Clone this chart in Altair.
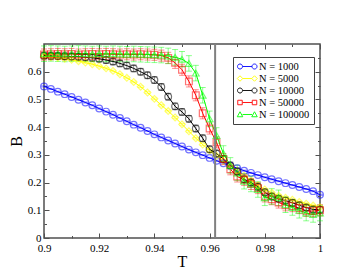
import altair as alt
import pandas as pd

T = [0.9, 0.9025, 0.905, 0.9075, 0.91, 0.9125, 0.915, 0.9175, 0.92, 0.9225,
     0.925, 0.9275, 0.93, 0.9325, 0.935, 0.9375, 0.94, 0.9425, 0.945, 0.9475,
     0.95, 0.9525, 0.955, 0.9575, 0.96, 0.9625, 0.965, 0.9675, 0.97, 0.9725,
     0.975, 0.9775, 0.98, 0.9825, 0.985, 0.9875, 0.99, 0.9925, 0.995, 0.9975, 1.0]

B_1000 = [0.547, 0.538, 0.528, 0.519, 0.509, 0.499, 0.489, 0.479, 0.467, 0.456,
          0.445, 0.433, 0.421, 0.409, 0.398, 0.386, 0.374, 0.363, 0.352, 0.341,
          0.330, 0.319, 0.309, 0.299, 0.289, 0.279, 0.270, 0.261, 0.252, 0.243,
          0.235, 0.227, 0.219, 0.212, 0.205, 0.198, 0.191, 0.184, 0.177, 0.169, 0.156]
B_5000 = [0.655, 0.653, 0.650, 0.647, 0.643, 0.638, 0.633, 0.627, 0.620, 0.612,
          0.603, 0.591, 0.578, 0.563, 0.546, 0.525, 0.502, 0.479, 0.458, 0.435,
          0.410, 0.385, 0.360, 0.337, 0.316, 0.297, 0.279, 0.260, 0.243, 0.225,
          0.208, 0.190, 0.175, 0.163, 0.153, 0.145, 0.138, 0.130, 0.124, 0.117, 0.111]
B_10000 = [0.658, 0.657, 0.657, 0.656, 0.655, 0.654, 0.652, 0.650, 0.647, 0.642,
           0.637, 0.630, 0.622, 0.612, 0.600, 0.587, 0.570, 0.545, 0.510, 0.475,
           0.455, 0.430, 0.395, 0.360, 0.320, 0.305, 0.285, 0.262, 0.240, 0.212,
           0.200, 0.185, 0.165, 0.150, 0.142, 0.135, 0.127, 0.118, 0.110, 0.103, 0.102]
B_50000 = [0.662, 0.663, 0.664, 0.663, 0.664, 0.662, 0.663, 0.664, 0.663, 0.664,
           0.663, 0.662, 0.663, 0.662, 0.663, 0.662, 0.661, 0.658, 0.650, 0.632,
           0.607, 0.565, 0.515, 0.450, 0.395, 0.345, 0.285, 0.248, 0.222, 0.210,
           0.195, 0.180, 0.150, 0.140, 0.128, 0.118, 0.115, 0.108, 0.098, 0.097, 0.100]
B_100000 = [0.665, 0.666, 0.665, 0.664, 0.665, 0.666, 0.665, 0.664, 0.665, 0.664,
            0.665, 0.664, 0.663, 0.664, 0.663, 0.662, 0.661, 0.660, 0.657, 0.652,
            0.645, 0.630, 0.595, 0.515, 0.430, 0.370, 0.305, 0.262, 0.235, 0.205,
            0.195, 0.175, 0.145, 0.150, 0.145, 0.120, 0.110, 0.100, 0.090, 0.085, 0.090]

SERIES = ["N = 1000", "N = 5000", "N = 10000", "N = 50000", "N = 100000"]
VALUES = [B_1000, B_5000, B_10000, B_50000, B_100000]
ERRORS = [0.002, 0.003, 0.012, 0.02, 0.028]
COLORS = ["#0000ff", "#ffff00", "#000000", "#ff0000", "#00ff00"]
SHAPES = ["circle", "diamond", "circle", "square", "triangle-up"]
TC = [0.962]

X_MAJOR = [0.9, 0.92, 0.94, 0.96, 0.98, 1.0]
X_MINOR = [0.91, 0.93, 0.95, 0.97, 0.99]
Y_MAJOR = [0, 0.1, 0.2, 0.3, 0.4, 0.5, 0.6]
Y_MINOR = [0.05, 0.15, 0.25, 0.35, 0.45, 0.55, 0.65]

rows = []
for name, vals, err in zip(SERIES, VALUES, ERRORS):
    for t, b in zip(T, vals):
        rows.append({"T": t, "B": b, "lo": b - err, "hi": b + err, "series": name})
df = pd.DataFrame(rows)

W, H = 276, 194
FRAME = "#505050"
FONT = "Liberation Serif"

xs = alt.Scale(domain=[0.9, 1.0], nice=False, zero=False)
ys = alt.Scale(domain=[0, 0.7], nice=False)
cs = alt.Scale(domain=SERIES, range=COLORS)


def tick_axis(orient, values, size):
    return alt.Axis(orient=orient, offset=-(H if orient in ("top", "bottom") else W),
                    values=values, tickSize=size, labels=False, domain=False,
                    grid=False, title=None, tickColor=FRAME, tickWidth=1)


base = alt.Chart(df)

err_rule = base.mark_rule(strokeWidth=1, opacity=0.45).encode(
    x=alt.X("T:Q", scale=xs, axis=alt.Axis(orient="bottom", values=X_MAJOR, format=".2~f",
                                           ticks=False, domain=False, labelFlush=False,
                                           labelPadding=4, title="T", titlePadding=0)),
    y=alt.Y("lo:Q", scale=ys, axis=alt.Axis(orient="left", values=Y_MAJOR, format=".1~f",
                                            ticks=False, domain=False, labelPadding=3,
                                            title="B", titlePadding=3)),
    y2="hi:Q",
    color=alt.Color("series:N", scale=cs, legend=None),
)

cap_lo = base.mark_tick(orient="horizontal", size=6, thickness=1, opacity=0.45).encode(
    x=alt.X("T:Q", scale=xs, axis=tick_axis("top", X_MAJOR, 5)),
    y=alt.Y("lo:Q", scale=ys, axis=tick_axis("right", Y_MAJOR, 5)),
    color=alt.Color("series:N", scale=cs, legend=None),
)

cap_hi = base.mark_tick(orient="horizontal", size=6, thickness=1, opacity=0.45).encode(
    x=alt.X("T:Q", scale=xs, axis=tick_axis("bottom", X_MAJOR, 5)),
    y=alt.Y("hi:Q", scale=ys, axis=tick_axis("left", Y_MAJOR, 5)),
    color=alt.Color("series:N", scale=cs, legend=None),
)

lines = base.mark_line(strokeWidth=1).encode(
    x=alt.X("T:Q", scale=xs, axis=tick_axis("top", X_MINOR, 2.5)),
    y=alt.Y("B:Q", scale=ys, axis=tick_axis("right", Y_MINOR, 2.5)),
    color=alt.Color("series:N", scale=cs, legend=None),
    detail="series:N",
)

points = base.mark_point(size=45, strokeWidth=1.2, opacity=0.55, filled=False).encode(
    x=alt.X("T:Q", scale=xs, axis=tick_axis("bottom", X_MINOR, 2.5)),
    y=alt.Y("B:Q", scale=ys, axis=tick_axis("left", Y_MINOR, 2.5)),
    color=alt.Color("series:N", scale=cs, legend=None),
    shape=alt.Shape("series:N", scale=alt.Scale(domain=SERIES, range=SHAPES), legend=None),
)

vline = alt.Chart(pd.DataFrame({"Tc": TC})).mark_rule(color="#808080", strokeWidth=2).encode(
    x=alt.X("Tc:Q", scale=xs, axis=None),
)


def circ(cx):
    return (f"M{cx - 0.5},0 A0.5,0.5 0 1,0 {cx + 0.5},0 "
            f"A0.5,0.5 0 1,0 {cx - 0.5},0 Z")


def diam(cx):
    return f"M{cx - 0.55},0 L{cx},-0.55 L{cx + 0.55},0 L{cx},0.55 Z"


def sq(cx):
    return f"M{cx - 0.45},-0.45 L{cx + 0.45},-0.45 L{cx + 0.45},0.45 L{cx - 0.45},0.45 Z"


def tri(cx):
    return f"M{cx},-0.55 L{cx + 0.55},0.45 L{cx - 0.55},0.45 Z"


def legend_path(fn):
    return f"{fn(-0.5)} M0,0 L1.9,0 {fn(2.4)}"


LEG_PATHS = [legend_path(circ), legend_path(diam), legend_path(circ),
             legend_path(sq), legend_path(tri)]

leg = alt.Legend(orient="none", legendX=189, legendY=13, title=None,
                 strokeColor="#404040", fillColor="white", padding=4,
                 symbolSize=100, symbolStrokeWidth=1, symbolOpacity=0.9,
                 labelFont=FONT, labelFontSize=10.5, labelOffset=11,
                 rowPadding=1, labelColor="black")

legend_layer = base.transform_filter("false").mark_point(filled=False).encode(
    x=alt.X("T:Q", scale=xs, axis=None),
    y=alt.Y("B:Q", scale=ys, axis=None),
    color=alt.Color("series:N", scale=cs, legend=leg),
    shape=alt.Shape("series:N", scale=alt.Scale(domain=SERIES, range=LEG_PATHS), legend=leg),
)

chart = alt.layer(
    err_rule, cap_lo, cap_hi, lines, points, vline, legend_layer
).resolve_axis(
    x="independent", y="independent"
).resolve_scale(
    shape="independent", color="independent"
).properties(
    width=W, height=H,
    autosize=alt.AutoSizeParams(type="none"),
    padding={"left": 36, "top": 36, "right": 31, "bottom": 32},
    background="white",
).configure_view(
    stroke=FRAME, strokeWidth=1.5
).configure_axis(
    grid=False, labelFont=FONT, titleFont=FONT, labelFontSize=11, titleFontSize=16,
    labelColor="black", titleColor="black", titleFontWeight="normal",
)

chart.save("out.html", embed_options={"renderer": "svg", "actions": False})
